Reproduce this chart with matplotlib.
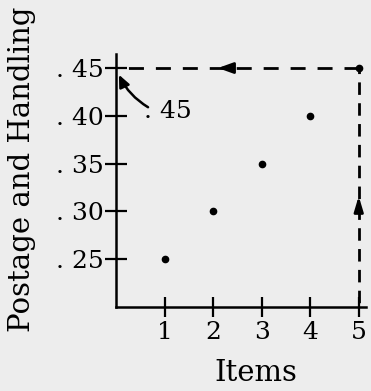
import matplotlib
matplotlib.use("Agg")
import matplotlib.pyplot as plt

items = [1, 2, 3, 4, 5]
postage = [0.25, 0.30, 0.35, 0.40, 0.45]
xticks = [1, 2, 3, 4, 5]
yticks = [0.25, 0.30, 0.35, 0.40, 0.45]
ytick_labels = [". 25", ". 30", ". 35", ". 40", ". 45"]
target_items = 5
target_value = 0.45
note_text = ". 45"

plt.rcParams['font.family'] = ['DejaVu Serif']
FS = 18
LFS = 21

fig = plt.figure(figsize=(3.71, 3.91), dpi=100, facecolor='#ededed')
ax = fig.add_axes([116/371, 1 - 307/391, 250/371, 253.3/391])
ax.set_facecolor('none')

ax.plot(items, postage, 'o', color='black', markersize=4.5, zorder=5)

# dashed guide lines
ax.plot([target_items, 0], [target_value, target_value], color='black', lw=2,
        linestyle=(0, (5.4, 4.3)), dash_capstyle='butt', clip_on=False)
ax.plot([target_items, target_items], [target_value, 0.20], color='black', lw=2,
        linestyle=(2.5, (4.5, 3.0)), dash_capstyle='butt', clip_on=False)

# arrow heads on guide lines
ax.annotate('', xy=(2.10, target_value), xytext=(2.42, target_value),
            arrowprops=dict(arrowstyle='-|>,head_length=0.5,head_width=0.18', color='black',
                            lw=2, mutation_scale=18, shrinkA=0, shrinkB=0))
ax.annotate('', xy=(target_items, 0.316), xytext=(target_items, 0.300),
            arrowprops=dict(arrowstyle='-|>,head_length=0.5,head_width=0.15', color='black',
                            lw=2, mutation_scale=18, shrinkA=0, shrinkB=0))

# annotation
ax.text(0.58, 0.398, note_text, fontsize=FS, ha='left', va='baseline')
ax.annotate('', xy=(0.06, 0.443), xytext=(0.66, 0.409),
            arrowprops=dict(arrowstyle='-|>,head_length=0.45,head_width=0.2', color='black',
                            lw=1.8, mutation_scale=16, shrinkA=0, shrinkB=0,
                            connectionstyle='arc3,rad=-0.15'))

ax.set_xlim(0, 5.15)
ax.set_ylim(0.20, 0.465)
ax.set_xticks(xticks)
ax.set_xticklabels([str(v) for v in xticks], fontsize=FS)
ax.set_yticks(yticks)
ax.set_yticklabels(ytick_labels, fontsize=FS)
ax.tick_params(axis='both', direction='inout', width=1.6, color='black')
ax.tick_params(axis='y', length=16, pad=1)
ax.tick_params(axis='x', length=14, pad=3)

for s in ['top', 'right']:
    ax.spines[s].set_visible(False)
for s in ['left', 'bottom']:
    ax.spines[s].set_linewidth(1.8)

ax.set_xlabel('Items', fontsize=LFS, va='center')
ax.xaxis.set_label_coords(0.56, -0.26)
ax.set_ylabel('Postage and Handling', fontsize=LFS, va='center')
ax.yaxis.set_label_coords(-0.375, 0.545)

fig.savefig('out.png', dpi=100, facecolor=fig.get_facecolor())
